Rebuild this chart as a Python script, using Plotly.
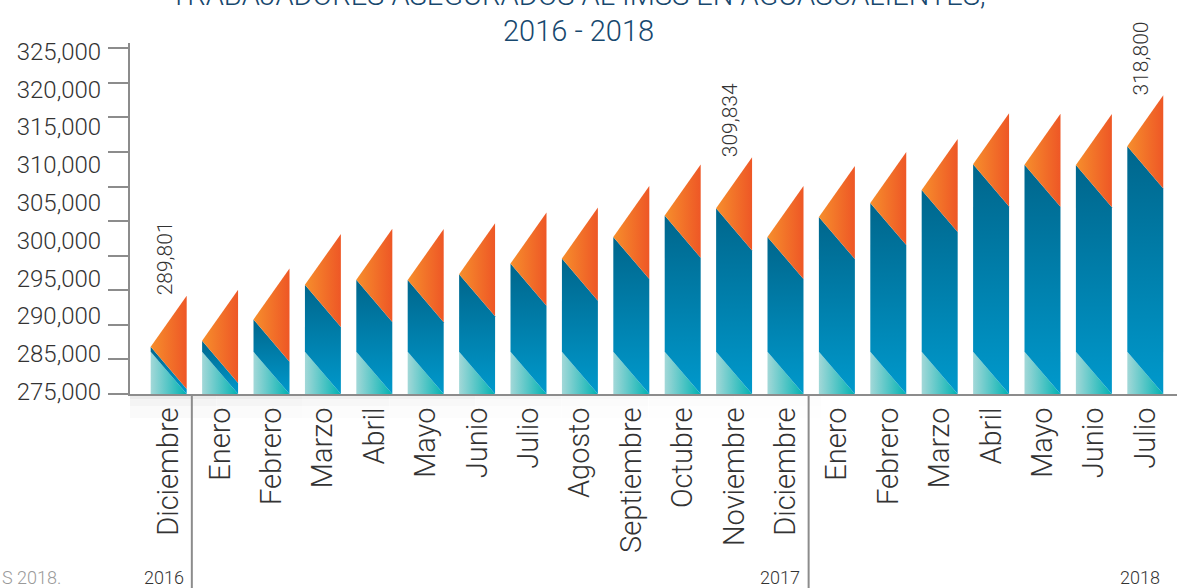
import plotly.graph_objects as go

# ---------------- data ----------------
months = ["Diciembre", "Enero", "Febrero", "Marzo", "Abril", "Mayo", "Junio",
          "Julio", "Agosto", "Septiembre", "Octubre", "Noviembre", "Diciembre",
          "Enero", "Febrero", "Marzo", "Abril", "Mayo", "Junio", "Julio"]
workers = [289801, 290670, 293750, 298760, 299490, 299450, 300310,
           301840, 302560, 305700, 308780, 309834, 305700,
           308590, 310610, 312490, 316200, 316150, 316100, 318800]
labeled_months = [0, 11, 19]
years = ["2016", "2017", "2018"]
year_last_month = [0, 12, 19]
y_tick_labels = ["275,000", "285,000", "290,000", "295,000", "300,000",
                 "305,000", "310,000", "315,000", "320,000", "325,000"]
title_line1 = "TRABAJADORES ASEGURADOS AL IMSS EN AGUASCALIENTES,"
title_line2 = "2016 - 2018"
source_text = "S 2018."

# ---------------- style / geometry ----------------
BASE = 275000
Y_TOP = 325770
HALF_W = 0.35
TIP_OFFSET = 600
RISE = 7375
SLANT = 6100
FONT = "Roboto"
WEIGHT = 300
AXIS_COL = "#8c8c8c"
TEXT_COL = "#333333"
TITLE_COL = "#17486e"
ML, MR, MT, MB = 130, 0, 43, 194
W, H = 1177, 588
PLOT_H = H - MT - MB

TEAL = [[0, "#a3d8d8"], [1, "#00b2b2"]]
BLUE = [[0, "#0099cc"], [1, "#00668c"]]
ORANGE = [[0, "#f68e2c"], [1, "#ee5726"]]

fig = go.Figure()

def poly(xs, ys, kind, cs):
    fig.add_trace(go.Scatter(
        x=xs, y=ys, mode="lines", fill="toself", line=dict(width=0),
        fillgradient=dict(type=kind, colorscale=cs),
        hoverinfo="skip", showlegend=False))

for i, v in enumerate(workers):
    x0, x1 = i - HALF_W, i + HALF_W
    tip = v - TIP_OFFSET
    left_top = tip - RISE
    right_low = left_top - SLANT
    teal_top = BASE + SLANT
    poly([x0, x0, x1, x0], [BASE, teal_top, BASE, BASE], "horizontal", TEAL)
    poly([x0, x0, x1, x1, x0], [teal_top, left_top, right_low, BASE, teal_top],
         "vertical", BLUE)
    poly([x0, x1, x1, x0], [left_top, tip, right_low, left_top], "horizontal", ORANGE)

# dummy trace for label axis
fig.add_trace(go.Scatter(x=[0], y=[300000], yaxis="y2", mode="markers",
                         marker=dict(opacity=0), hoverinfo="skip", showlegend=False))

# value labels
for i in labeled_months:
    fig.add_annotation(x=i, y=workers[i], xref="x", yref="y", text=f"{workers[i]:,}",
                       textangle=-90, showarrow=False, xanchor="center", yanchor="bottom",
                       xshift=-4, yshift=-6,
                       font=dict(family=FONT, size=21, color=TEXT_COL, weight=WEIGHT))

# y tick label positions (drawn evenly, as in the original graphic)
label_start = BASE + 376
label_step = 5462
label_pos = [label_start + k * label_step for k in range(len(y_tick_labels))]

def py(p):
    return (H - MB - p) / PLOT_H

# year labels & separators
for yr, last in zip(years, year_last_month):
    fig.add_annotation(x=last + 0.33, y=py(577), xref="x", yref="paper", text=yr,
                       showarrow=False, xanchor="right", yanchor="middle",
                       font=dict(family=FONT, size=18, color=TEXT_COL, weight=WEIGHT))
for last in year_last_month[:-1]:
    fig.add_shape(type="line", x0=last + 0.45, x1=last + 0.45, xref="x", yref="paper",
                  y0=0, y1=py(H + 5), line=dict(color=AXIS_COL, width=2))

# soft shadow below the axis, fading to the right
n_seg = 8
for s in range(n_seg):
    fade = 1 - s / n_seg
    for hgt, a in [(5, 0.035), (12, 0.025), (24, 0.018)]:
        fig.add_shape(type="rect", xref="paper", yref="paper",
                      x0=s * 0.66 / n_seg, x1=(s + 1) * 0.66 / n_seg,
                      y0=py(394 + hgt), y1=py(395), line=dict(width=0),
                      fillcolor=f"rgba(0,0,0,{a * fade:.4f})", layer="below")

# title
fig.add_annotation(x=0.428, y=py(-5), xref="paper", yref="paper", text=title_line1,
                   showarrow=False, xanchor="center", yanchor="middle",
                   font=dict(family=FONT, size=29, color=TITLE_COL, weight=WEIGHT))
fig.add_annotation(x=0.428, y=py(31), xref="paper", yref="paper", text=title_line2,
                   showarrow=False, xanchor="center", yanchor="middle",
                   font=dict(family=FONT, size=29, color=TITLE_COL, weight=WEIGHT))
# source
fig.add_annotation(x=-ML / (W - ML - MR), y=py(577), xref="paper", yref="paper",
                   text=source_text, showarrow=False, xanchor="left", yanchor="middle",
                   font=dict(family=FONT, size=18, color="#9a9a9a", weight=WEIGHT))

fig.update_layout(
    width=W, height=H, margin=dict(l=ML, r=MR, t=MT, b=MB),
    paper_bgcolor="white", plot_bgcolor="white", hovermode=False,
    showlegend=False,
    xaxis=dict(range=[-0.753, 19.617], tickmode="array",
               tickvals=list(range(len(months))), ticktext=months,
               tickangle=-90, showgrid=False, zeroline=False,
               showline=True, linecolor=AXIS_COL, linewidth=2,
               ticks="",
               tickfont=dict(family=FONT, size=29, color=TEXT_COL, weight=WEIGHT)),
    yaxis=dict(range=[BASE, Y_TOP], tickmode="linear", tick0=BASE, dtick=5000,
               showticklabels=False, showgrid=False, zeroline=False,
               showline=True, linecolor=AXIS_COL, linewidth=2,
               ticks="outside", ticklen=20, tickwidth=2, tickcolor=AXIS_COL),
    yaxis2=dict(range=[BASE, Y_TOP], overlaying="y", side="left",
                tickmode="array", tickvals=label_pos, ticktext=y_tick_labels,
                showgrid=False, zeroline=False, showline=False,
                ticks="outside", ticklen=23, tickcolor="rgba(0,0,0,0)",
                tickfont=dict(family=FONT, size=24, color=TEXT_COL, weight=WEIGHT)),
)

fig.write_html("out.html", config={"displayModeBar": False},
               post_script="document.body.style.margin='0';")
